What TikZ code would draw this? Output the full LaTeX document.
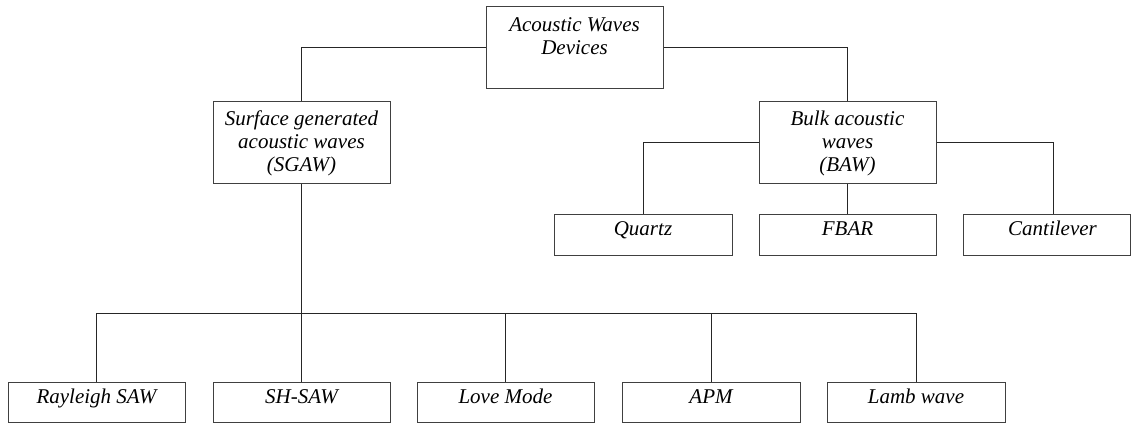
\documentclass[tikz,border=0pt]{standalone}
\usepackage{fontspec}
\setmainfont{Liberation Serif}
\usetikzlibrary{calc}
\begin{document}
\begin{tikzpicture}[x=0.75pt,y=-0.75pt,
  box/.style={draw=black!75,line width=0.75pt,inner sep=0pt,align=center,
    font=\fontsize{15.75pt}{17.25pt}\selectfont\itshape,
    minimum width=#1*0.75pt},
  bigbox/.style={box=#1,minimum height=82*0.75pt},
  smallbox/.style={box=#1,minimum height=40.5*0.75pt,text height=11pt,text depth=10.25pt},
  conn/.style={draw=black!85,line width=0.75pt}]
\useasboundingbox (0,0) rectangle (1131,424);
% top level
\node[bigbox=177] (top) at (574.5,48) {Acoustic Waves\\Devices\\\mbox{}};
\node[bigbox=177] (sgaw) at (301.5,143) {Surface generated\\acoustic waves\\(SGAW)};
\node[bigbox=177] (baw) at (847.5,143) {Bulk acoustic\\waves\\(BAW)};
% BAW children
\node[smallbox=178] (quartz) at (643,235) {Quartz};
\node[smallbox=177] (fbar) at (847.5,235) {FBAR};
\node[smallbox=167] (cant) at (1046.5,235) {\hspace*{9pt}Cantilever};
% SGAW children
\node[smallbox=177] (ray) at (96.5,402.5) {Rayleigh SAW};
\node[smallbox=177] (sh) at (301.5,402.5) {SH-SAW};
\node[smallbox=177] (love) at (505.5,402.5) {Love Mode};
\node[smallbox=178] (apm) at (711,402.5) {APM};
\node[smallbox=178] (lamb) at (916,402.5) {Lamb wave};
\coordinate (bus) at (0,313);
\coordinate (canttop) at ($(cant.north)+(6.5,0)$);
% connectors
\draw[conn] (top.west) -| (sgaw.north);
\draw[conn] (top.east) -| (baw.north);
\draw[conn] (baw.west) -| (quartz.north);
\draw[conn] (baw.south) -- (fbar.north);
\draw[conn] (baw.east) -| (canttop);
\draw[conn] (sgaw.south) -- (sh.north);
\draw[conn] (ray.north) -- (ray.north |- bus) -- (lamb.north |- bus) -- (lamb.north);
\draw[conn] (love.north) -- (love.north |- bus);
\draw[conn] (apm.north) -- (apm.north |- bus);
\end{tikzpicture}
\end{document}
